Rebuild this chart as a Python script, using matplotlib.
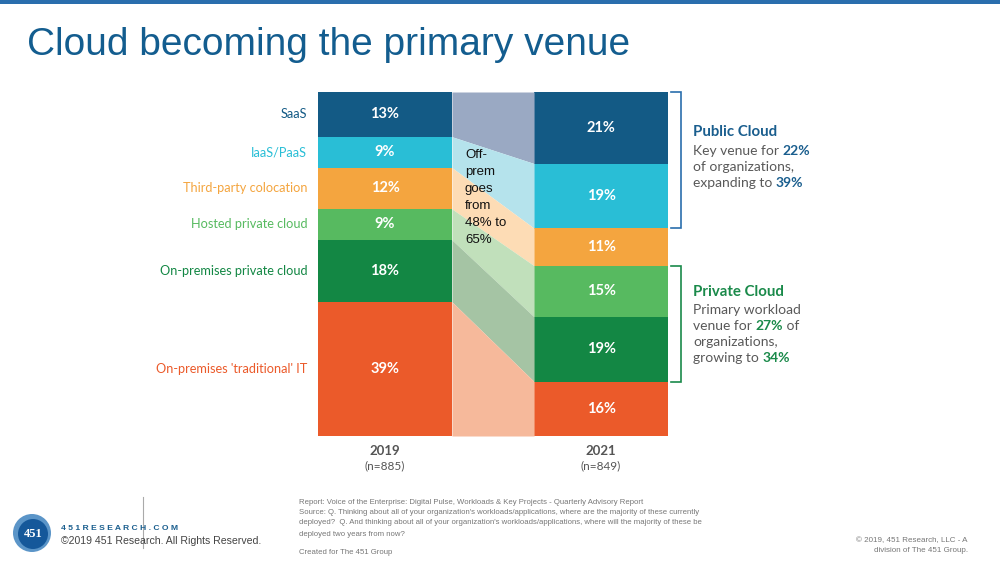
import matplotlib.pyplot as plt
from matplotlib.patches import Circle, Rectangle
import numpy as np

# data
categories = ['SaaS', 'IaaS/PaaS', 'Third-party colocation', 'Hosted private cloud',
              'On-premises private cloud', "On-premises 'traditional' IT"]
v2019 = [13, 9, 12, 9, 18, 39]
v2021 = [21, 19, 11, 15, 19, 16]
years = ['2019', '2021']
samples = ['(n=885)', '(n=849)']

bar_colors = ['#135a85', '#29bed6', '#f4a53f', '#57ba60', '#138744', '#eb5a2a']
band_colors = ['#9aa9c3', '#b5e3ec', '#fddcb5', '#c1e0bb', '#a5c4a4', '#f6b99b']
label_colors = ['#135a85', '#29bed6', '#f4a53f', '#57ba60', '#138744', '#eb5a2a']

W, H = 1000, 562
fig = plt.figure(figsize=(W / 100, H / 100), dpi=100)

def fx(x):
    return x / W

def fy(y):
    return 1 - y / H

# chart axes (pixel box 318..668 x 92..436)
ax = fig.add_axes([fx(318), fy(436), (668 - 318) / W, (436 - 92) / H])
bw = 0.62
xs = [0, 1]
ax.set_xlim(-bw / 2, 1 + bw / 2)
ax.set_ylim(100, 0)
ax.axis('off')

font_lbl = ['Lato', 'DejaVu Sans']

def stack(vals):
    v = np.array(vals, dtype=float)
    v = v / v.sum() * 100
    bot = np.concatenate([[0], np.cumsum(v)[:-1]])
    return v, bot

h19, b19 = stack(v2019)
h21, b21 = stack(v2021)

for i in range(len(categories)):
    ax.bar(xs[0], h19[i], bottom=b19[i], width=bw, color=bar_colors[i], linewidth=0)
    ax.bar(xs[1], h21[i], bottom=b21[i], width=bw, color=bar_colors[i], linewidth=0)
    ax.fill_between([bw / 2, 1 - bw / 2], [b19[i], b21[i]],
                    [b19[i] + h19[i], b21[i] + h21[i]], color=band_colors[i], linewidth=0)
    ax.text(xs[0], b19[i] + h19[i] / 2, f'{v2019[i]}%', ha='center', va='center',
            color='white', fontsize=10.5, fontweight='bold', family=font_lbl)
    ax.text(xs[1], b21[i] + h21[i] / 2, f'{v2021[i]}%', ha='center', va='center',
            color='white', fontsize=10.5, fontweight='bold', family=font_lbl)
    ax.text(-bw / 2 - 0.05, b19[i] + h19[i] / 2, categories[i], ha='right', va='center',
            color=label_colors[i], fontsize=9.2, family=font_lbl, clip_on=False)

ax.text(0.37, 16.6, 'Off-\nprem\ngoes\nfrom\n48% to\n65%',
        ha='left', va='top', fontsize=9.5, color='#111111', linespacing=1.55,
        family=['Liberation Sans', 'DejaVu Sans'])

# year labels
for x, yr, n in zip(xs, years, samples):
    ax.text(x, 104.5, yr, ha='center', va='center', fontsize=9.5, fontweight='bold',
            color='#555555', family=font_lbl, clip_on=False)
    ax.text(x, 108.8, n, ha='center', va='center', fontsize=8.5,
            color='#555555', family=font_lbl, clip_on=False)

# brackets
bx0, bx1 = 1 + bw / 2 + 0.015, 1 + bw / 2 + 0.06
def bracket(top, bot, col):
    ax.plot([bx0, bx1, bx1, bx0], [top, top, bot, bot], color=col, lw=1.2,
            clip_on=False, solid_joinstyle='miter')

bracket(b21[0], b21[1] + h21[1], '#2a6ead')
bracket(b21[3], b21[4] + h21[4], '#1a8a4a')

# overlay for decorations
deco = fig.add_axes([0, 0, 1, 1], zorder=-1)
deco.set_xlim(0, W)
deco.set_ylim(H, 0)
deco.axis('off')
deco.add_patch(Rectangle((0, 0), W, 4, color='#2a6ead', lw=0))

fig.text(fx(27), fy(45), 'Cloud becoming the primary venue', ha='left', va='center',
         fontsize=28, color='#135d8f', fontweight='medium',
         family=['Liberation Sans Narrow', 'Liberation Sans', 'DejaVu Sans'])

# right annotations
grey = '#595959'
blue = '#1a5e8e'
green = '#1a8a4a'
rx = fx(693)
def rich(y, parts):
    x = rx
    renderer = fig.canvas.get_renderer()
    for s, col, wt in parts:
        tt = fig.text(x, fy(y), s, ha='left', va='center', fontsize=10, color=col,
                      fontweight=wt, family=font_lbl)
        bb = tt.get_window_extent(renderer=renderer)
        x += bb.width / W

fig.text(rx, fy(132), 'Public Cloud', ha='left', va='center', fontsize=10.8,
         fontweight='bold', color=blue, family=font_lbl)
rich(151, [('Key venue for ', grey, 'normal'), ('22%', blue, 'bold')])
rich(167, [('of organizations,', grey, 'normal')])
rich(183, [('expanding to ', grey, 'normal'), ('39%', blue, 'bold')])

fig.text(rx, fy(292), 'Private Cloud', ha='left', va='center', fontsize=10.8,
         fontweight='bold', color=green, family=font_lbl)
rich(310, [('Primary workload', grey, 'normal')])
rich(326, [('venue for ', grey, 'normal'), ('27%', green, 'bold'), (' of', grey, 'normal')])
rich(342, [('organizations,', grey, 'normal')])
rich(358, [('growing to ', grey, 'normal'), ('34%', green, 'bold')])

# footer
deco.add_patch(Circle((32, 533), 19, color='#5b95c8', lw=0))
deco.add_patch(Circle((33, 534), 15, color='#15589a', lw=0))
deco.text(33, 534, '451', ha='center', va='center', color='white', fontsize=9,
          fontweight='bold', family=['Liberation Serif', 'DejaVu Serif'])
deco.plot([143, 143], [497, 548], color='#aaaaaa', lw=0.8)
deco.text(61, 528, '4 5 1 R E S E A R C H . C O M', ha='left', va='center',
          color='#1a5e8e', fontsize=6.1, fontweight='bold', family=['Liberation Sans'])
deco.text(61, 541, '©2019 451 Research. All Rights Reserved.', ha='left', va='center',
          color='#444444', fontsize=7.6, family=['Liberation Sans'])

foot = [
    (502, 'Report: Voice of the Enterprise: Digital Pulse, Workloads & Key Projects - Quarterly Advisory Report'),
    (513, "Source: Q. Thinking about all of your organization's workloads/applications, where are the majority of these currently"),
    (523, "deployed?  Q. And thinking about all of your organization's workloads/applications, where will the majority of these be"),
    (534, 'deployed two years from now?'),
    (552, 'Created for The 451 Group'),
]
for y, s in foot:
    deco.text(299, y, s, ha='left', va='center', color='#777777', fontsize=5.6,
              family=['Liberation Sans'])
deco.text(968, 541, '© 2019, 451 Research, LLC - A', ha='right', va='center',
          color='#777777', fontsize=5.8, family=['Liberation Sans'])
deco.text(968, 551, 'division of The 451 Group.', ha='right', va='center',
          color='#777777', fontsize=5.8, family=['Liberation Sans'])

fig.savefig('out.png', dpi=100)
